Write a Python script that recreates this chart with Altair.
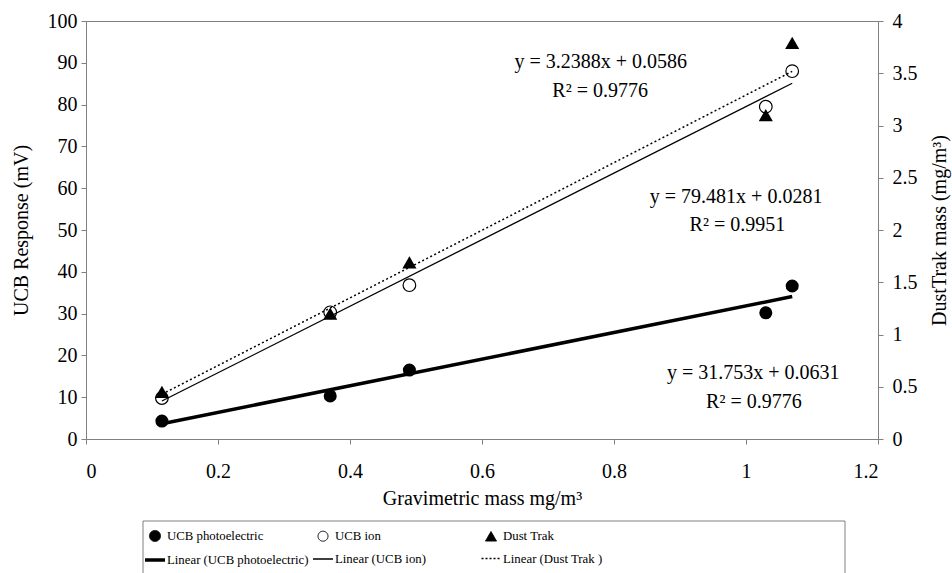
import altair as alt
import pandas as pd

FONT = "Liberation Serif"

# ---- data ----
mass = [0.115, 0.37, 0.49, 1.03, 1.07]           # gravimetric mass mg/m3
photo_mv = [4.3, 10.3, 16.5, 30.2, 36.6]         # UCB photoelectric (mV)
ion_mv = [9.8, 30.3, 36.8, 79.5, 88.0]           # UCB ion (mV)
dust_mg = [0.45, 1.20, 1.69, 3.10, 3.79]         # Dust Trak (mg/m3)

x_ticks = [0, 0.2, 0.4, 0.6, 0.8, 1.0, 1.2]
left_ticks = [0, 10, 20, 30, 40, 50, 60, 70, 80, 90, 100]
right_ticks = [0, 0.5, 1, 1.5, 2, 2.5, 3, 3.5, 4]

eq_labels = ["y = 3.2388x + 0.0586", "R² = 0.9776",
             "y = 79.481x + 0.0281", "R² = 0.9951",
             "y = 31.753x + 0.0631", "R² = 0.9776"]
eq_x = [0.780, 0.779, 0.985, 0.987, 1.011, 1.012]
eq_y = [90.2, 83.3, 57.9, 51.2, 15.8, 8.9]

legend_items = ["UCB photoelectric", "UCB ion", "Dust Trak",
                "Linear (UCB photoelectric)", "Linear (UCB ion)", "Linear (Dust Trak )"]
legend_shapes = ["circle", "circle", "triangle-up", "M-1,0H1", "M-1,0H1", "M-1,0H1"]
legend_fills = ["black", "transparent", "black", "transparent", "transparent", "transparent"]
legend_sizes = [121, 100, 121, 400, 400, 360]
legend_widths = [1, 1, 1, 3.5, 1.3, 1.3]
legend_dashes = [[1, 0], [1, 0], [1, 0], [1, 0], [1, 0], [2, 2]]

photo_df = pd.DataFrame({"mass": mass, "mv": photo_mv})
ion_df = pd.DataFrame({"mass": mass, "mv": ion_mv})
dust_df = pd.DataFrame({"mass": mass, "mg": dust_mg})
eq_df = pd.DataFrame({"mass": eq_x, "mv": eq_y, "label": eq_labels})
legend_df = pd.DataFrame({"mass": [None] * 6, "mv": [None] * 6, "item": legend_items})

x_enc = alt.X("mass:Q",
              scale=alt.Scale(domain=[0, 1.2], nice=False, zero=False),
              axis=alt.Axis(title="Gravimetric mass mg/m³", values=x_ticks, format="~g",
                            labelPadding=17, titlePadding=7))
y_left = alt.Y("mv:Q",
               scale=alt.Scale(domain=[0, 100], nice=False),
               axis=alt.Axis(title="UCB Response (mV)", orient="left", values=left_ticks,
                             labelPadding=4, titlePadding=16))
y_right = alt.Y("mg:Q",
                scale=alt.Scale(domain=[0, 4], nice=False),
                axis=alt.Axis(title="DustTrak mass (mg/m³)", orient="right", values=right_ticks,
                              format="~g", labelPadding=9, titlePadding=12,
                              titleAngle=270, titleBaseline="top"))

photo_line = alt.Chart(photo_df).transform_regression("mass", "mv").mark_line(
    color="black", strokeWidth=3.5).encode(x=x_enc, y=y_left)
ion_line = alt.Chart(ion_df).transform_regression("mass", "mv").mark_line(
    color="black", strokeWidth=1.3).encode(x=x_enc, y=y_left)
photo_pts = alt.Chart(photo_df).mark_point(
    shape="circle", filled=True, color="black", size=170, opacity=1).encode(x=x_enc, y=y_left)
ion_pts = alt.Chart(ion_df).mark_point(
    shape="circle", filled=False, color="black", fill="transparent", size=160,
    strokeWidth=1.2, opacity=1).encode(x=x_enc, y=y_left)
eq_text = alt.Chart(eq_df).mark_text(
    font=FONT, fontSize=20, align="center", baseline="middle", color="black").encode(
    x=x_enc, y=y_left, text="label:N")

leg = alt.Legend(title=None, orient="none", legendX=57, legendY=506, columns=3,
                 direction="horizontal", gridAlign="all", columnPadding=1, rowPadding=2,
                 padding=0, labelFont=FONT, labelFontSize=12.8, labelColor="black",
                 labelOffset=0, labelLimit=300)
legend_layer = alt.Chart(legend_df).mark_point(opacity=1).encode(
    x=x_enc, y=y_left,
    fill=alt.Fill("item:N", scale=alt.Scale(domain=legend_items, range=legend_fills), legend=leg),
    stroke=alt.Stroke("item:N", scale=alt.Scale(domain=legend_items, range=["black"] * 6), legend=leg),
    shape=alt.Shape("item:N", scale=alt.Scale(domain=legend_items, range=legend_shapes), legend=leg),
    size=alt.Size("item:N", scale=alt.Scale(type="ordinal", domain=legend_items, range=legend_sizes), legend=leg),
    strokeWidth=alt.StrokeWidth("item:N", scale=alt.Scale(type="ordinal", domain=legend_items, range=legend_widths), legend=leg),
    strokeDash=alt.StrokeDash("item:N", scale=alt.Scale(domain=legend_items, range=legend_dashes), legend=leg),
)

legend_box = alt.Chart(pd.DataFrame({"k": [0]})).mark_rect(
    fill="transparent", stroke="#808080", strokeWidth=1).encode(
    x=alt.value(57), x2=alt.value(759), y=alt.value(500), y2=alt.value(575))

left = alt.layer(photo_line, ion_line, photo_pts, ion_pts, eq_text, legend_layer, legend_box)

dust_line = alt.Chart(dust_df).transform_regression("mass", "mg").mark_line(
    color="black", strokeWidth=1.5, strokeDash=[2, 2.5]).encode(x=x_enc, y=y_right)
dust_pts = alt.Chart(dust_df).mark_point(
    shape="triangle-up", filled=True, color="black", size=200, opacity=1).encode(x=x_enc, y=y_right)
right = alt.layer(dust_line, dust_pts)

chart = alt.layer(left, right).resolve_scale(y="independent").properties(
    width=792, height=418,
    autosize=alt.AutoSizeParams(type="none"),
    padding={"left": 86, "top": 21, "right": 74, "bottom": 134},
    background="white",
).configure_view(stroke="#808080", strokeWidth=1).configure_axis(
    grid=False, domainColor="#808080", tickColor="#808080", tickSize=5,
    labelFont=FONT, titleFont=FONT, labelFontSize=20, titleFontSize=20,
    labelColor="black", titleColor="black", titleFontWeight="normal",
)

chart.save("out.html", embed_options={"renderer": "svg", "actions": False})
